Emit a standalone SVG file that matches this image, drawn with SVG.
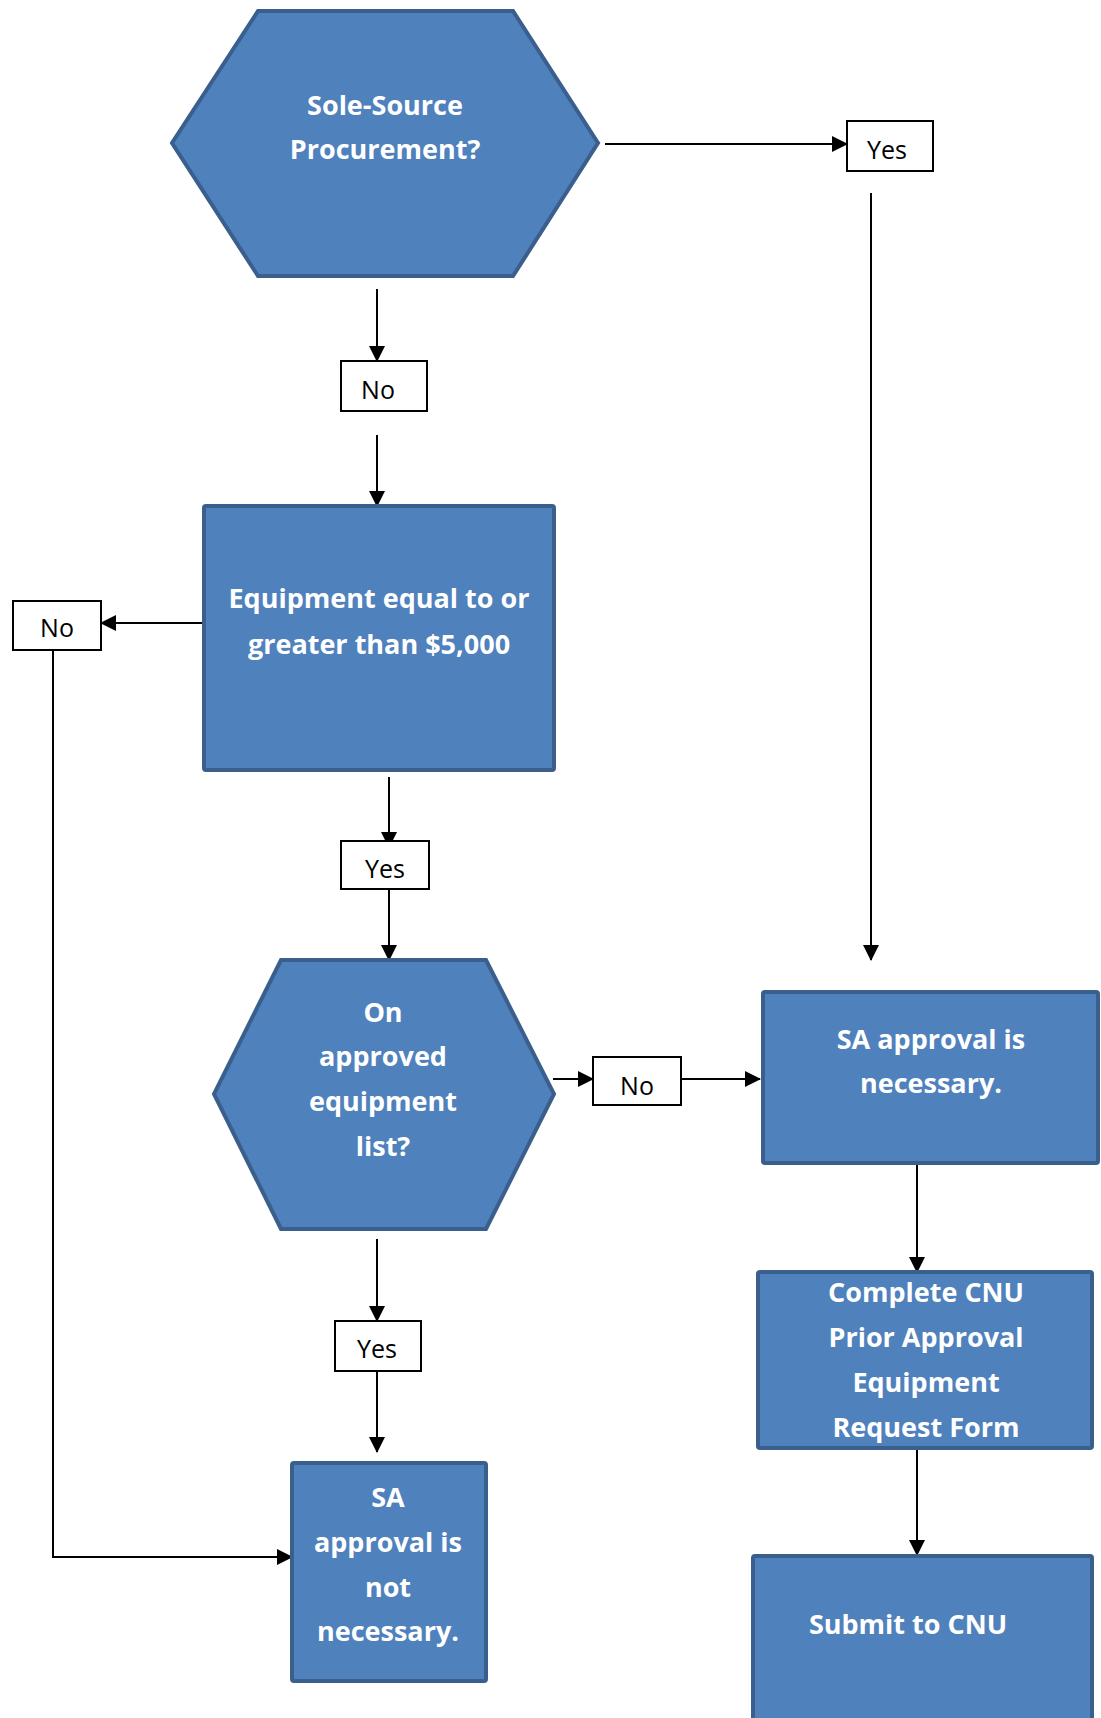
<svg xmlns="http://www.w3.org/2000/svg" width="1101" height="1718" viewBox="0 0 1101 1718">
<style>
.node{fill:#4F81BD;stroke:#3A5F8C;stroke-width:4;stroke-linejoin:miter}
.nt{font-family:"Open Sans","Liberation Sans",sans-serif;font-weight:bold;font-size:27px;fill:#FFFFFF;text-anchor:middle}
.lbl{fill:#FFFFFF;stroke:#000000;stroke-width:2}
.lt{font-family:"Open Sans","Liberation Sans",sans-serif;font-size:25px;fill:#000000;text-anchor:middle}
.c{fill:none;stroke:#000000;stroke-width:2}
</style>
<defs>
<marker id="arr" markerUnits="userSpaceOnUse" markerWidth="16" markerHeight="16" refX="15" refY="8" orient="auto">
<path d="M0,0 L16,8 L0,16 Z" fill="#000000"/>
</marker>
</defs>
<g id="connectors">
<line class="c" x1="605" y1="144" x2="847" y2="144" marker-end="url(#arr)"/>
<line class="c" x1="871" y1="193" x2="871" y2="960" marker-end="url(#arr)"/>
<line class="c" x1="377" y1="289" x2="377" y2="361" marker-end="url(#arr)"/>
<line class="c" x1="377" y1="435" x2="377" y2="506" marker-end="url(#arr)"/>
<line class="c" x1="204" y1="623" x2="101" y2="623" marker-end="url(#arr)"/>
<polyline class="c" points="53,650 53,1557 292,1557" marker-end="url(#arr)"/>
<line class="c" x1="389" y1="777" x2="389" y2="847" marker-end="url(#arr)"/>
<line class="c" x1="389" y1="889" x2="389" y2="960" marker-end="url(#arr)"/>
<line class="c" x1="553" y1="1079" x2="593" y2="1079" marker-end="url(#arr)"/>
<line class="c" x1="681" y1="1079" x2="760" y2="1079" marker-end="url(#arr)"/>
<line class="c" x1="377" y1="1239" x2="377" y2="1321" marker-end="url(#arr)"/>
<line class="c" x1="377" y1="1371" x2="377" y2="1452" marker-end="url(#arr)"/>
<line class="c" x1="917" y1="1163" x2="917" y2="1272" marker-end="url(#arr)"/>
<line class="c" x1="917" y1="1448" x2="917" y2="1555" marker-end="url(#arr)"/>
</g>
<g id="label-yes-1">
<rect class="lbl" x="847" y="121" width="86" height="50"/>
<text class="lt" x="887" y="159">Yes</text>
</g>
<g id="label-no-1">
<rect class="lbl" x="341" y="361" width="86" height="50"/>
<text class="lt" x="378" y="399">No</text>
</g>
<g id="label-no-2">
<rect class="lbl" x="13" y="601" width="88" height="49"/>
<text class="lt" x="57" y="637">No</text>
</g>
<g id="label-yes-2">
<rect class="lbl" x="341" y="841" width="88" height="48"/>
<text class="lt" x="385" y="878">Yes</text>
</g>
<g id="label-no-3">
<rect class="lbl" x="593" y="1057" width="88" height="48"/>
<text class="lt" x="637" y="1095">No</text>
</g>
<g id="label-yes-3">
<rect class="lbl" x="335" y="1321" width="86" height="50"/>
<text class="lt" x="377" y="1358">Yes</text>
</g>
<g id="node-sole-source">
<polygon class="node" points="258,11 513,11 598,143 513,276 258,276 172,143"/>
<text class="nt" x="385" y="115">Sole-Source</text>
<text class="nt" x="385" y="159">Procurement?</text>
</g>
<g id="node-equipment">
<rect class="node" x="204" y="506" width="350" height="264" rx="2"/>
<text class="nt" x="379" y="608">Equipment equal to or</text>
<text class="nt" x="379" y="654">greater than $5,000</text>
</g>
<g id="node-approved-list">
<polygon class="node" points="281,960 486,960 554,1094 486,1229 281,1229 214,1094"/>
<text class="nt" x="383" y="1022">On</text>
<text class="nt" x="383" y="1066">approved</text>
<text class="nt" x="383" y="1111">equipment</text>
<text class="nt" x="383" y="1156">list?</text>
</g>
<g id="node-sa-necessary">
<rect class="node" x="763" y="992" width="335" height="171" rx="2"/>
<text class="nt" x="931" y="1049">SA approval is</text>
<text class="nt" x="931" y="1093">necessary.</text>
</g>
<g id="node-complete-form">
<rect class="node" x="758" y="1272" width="334" height="176" rx="2"/>
<text class="nt" x="926" y="1302">Complete CNU</text>
<text class="nt" x="926" y="1347">Prior Approval</text>
<text class="nt" x="926" y="1392">Equipment</text>
<text class="nt" x="926" y="1437">Request Form</text>
</g>
<g id="node-submit">
<rect class="node" x="753" y="1556" width="339" height="180" rx="2"/>
<text class="nt" x="908" y="1634">Submit to CNU</text>
</g>
<g id="node-sa-not-necessary">
<rect class="node" x="292" y="1463" width="194" height="218" rx="2"/>
<text class="nt" x="388" y="1507">SA</text>
<text class="nt" x="388" y="1552">approval is</text>
<text class="nt" x="388" y="1597">not</text>
<text class="nt" x="388" y="1641">necessary.</text>
</g>
</svg>
